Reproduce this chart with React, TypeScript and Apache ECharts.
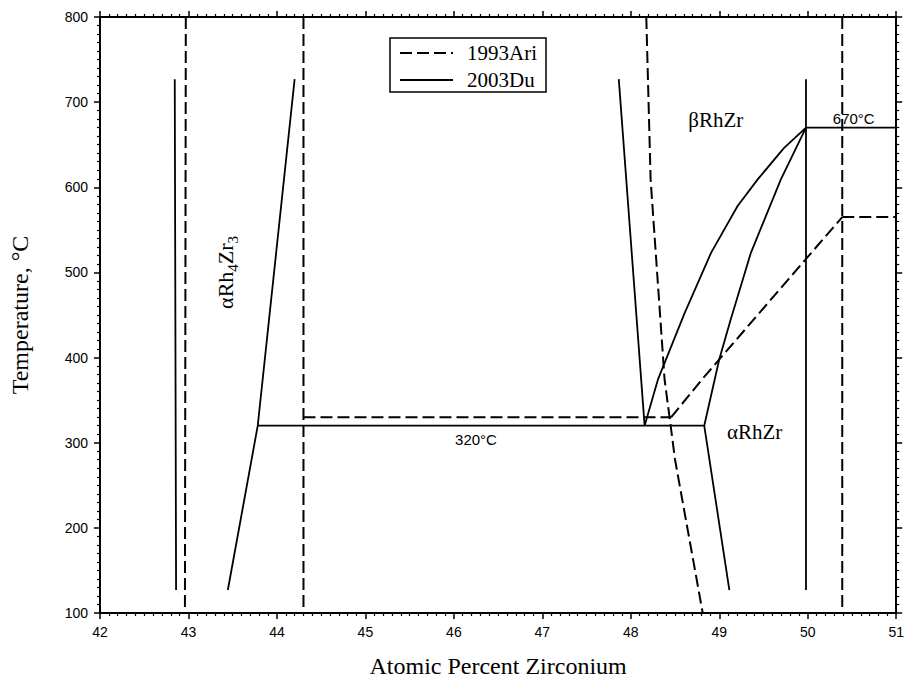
import React, { useEffect, useRef } from "react";
import * as echarts from "echarts";

// Axis ranges and ticks
const X_MIN = 42;
const X_MAX = 51;
const Y_MIN = 100;
const Y_MAX = 800;
const X_INTERVAL = 1;
const Y_INTERVAL = 100;

// Series names
const SERIES_NAMES = ["1993Ari", "2003Du"];

// 1993Ari boundaries (dashed)
const ari43 = [[42.97, 800], [42.96, 100]];
const ari443 = [[44.3, 800], [44.3, 100]];
const ariBeta = [[48.175, 800], [48.224, 609], [48.382, 374], [48.438, 330], [48.5, 280], [48.813, 100]];
const ari330 = [[44.3, 330], [48.457, 330]];
const ariRise = [[48.457, 330], [48.81, 375], [49.99, 517], [50.39, 565]];
const ari5039 = [[50.39, 800], [50.39, 100]];
const ari565 = [[50.39, 565], [51, 565]];

// 2003Du boundaries (solid)
const duRh4Left = [[42.845, 727], [42.86, 127]];
const duRh4Right = [[44.2, 727], [43.783, 320], [43.445, 127]];
const du320 = [[43.783, 320], [48.83, 320]];
const duBetaLeft = [[47.864, 727], [48.156, 320]];
const duBetaUpper = [[48.156, 320], [48.306, 374], [48.607, 452], [48.907, 523], [49.207, 578], [49.432, 609], [49.73, 646], [49.98, 670]];
const duAlphaCurve = [[48.83, 320], [49.0, 398], [49.13, 445], [49.357, 523], [49.695, 609], [49.98, 670]];
const duAlphaRight = [[48.83, 320], [49.114, 127]];
const du50 = [[49.98, 727], [49.98, 127]];
const du670 = [[49.98, 670], [51, 670]];

const ariLines = [ari43, ari443, ariBeta, ari330, ariRise, ari5039, ari565];
const duLines = [duRh4Left, duRh4Right, du320, duBetaLeft, duBetaUpper, duAlphaCurve, duAlphaRight, du50, du670];

// Annotations (data coordinates)
const labels = [
  { text: "βRhZr", at: [48.96, 679], kind: "serif" },
  { text: "αRhZr", at: [49.4, 313], kind: "serif" },
  { text: "670°C", at: [50.52, 681], kind: "sans" },
  { text: "320°C", at: [46.25, 304], kind: "sans" },
];
const rotatedLabelAt = [43.44, 500];

const SERIF = '"Liberation Serif", "Times New Roman", serif';
const SANS = '"Liberation Sans", Arial, sans-serif';
const DASH = [12, 5];

function joinWithBreaks(lines: number[][][]) {
  const out: any[] = [];
  lines.forEach((l, i) => {
    if (i > 0) out.push(["-", "-"]);
    l.forEach((p) => out.push(p));
  });
  return out;
}

function axisX(position: "bottom" | "top", showLabel: boolean, name?: string) {
  return {
    type: "value",
    position,
    min: X_MIN,
    max: X_MAX,
    interval: X_INTERVAL,
    name: name,
    nameLocation: "middle",
    nameGap: 41,
    nameTextStyle: { fontFamily: SERIF, fontSize: 24, color: "#000" },
    axisLine: { show: true, onZero: false, lineStyle: { color: "#000", width: 2 } },
    axisTick: { show: true, inside: false, length: 6, lineStyle: { color: "#000", width: 1.5 } },
    minorTick: { show: true, splitNumber: 10, length: 3, lineStyle: { color: "#000", width: 1.2 } },
    splitLine: { show: false },
    axisLabel: { show: showLabel, margin: 12, fontFamily: SANS, fontSize: 14, color: "#000" },
  };
}

function axisY(position: "left" | "right", showLabel: boolean, name?: string) {
  return {
    type: "value",
    position,
    min: Y_MIN,
    max: Y_MAX,
    interval: Y_INTERVAL,
    name: name,
    nameLocation: "middle",
    nameGap: 68,
    nameTextStyle: { fontFamily: SERIF, fontSize: 24, color: "#000" },
    axisLine: { show: true, onZero: false, lineStyle: { color: "#000", width: 2 } },
    axisTick: { show: true, inside: false, length: 6, lineStyle: { color: "#000", width: 1.5 } },
    minorTick: { show: true, splitNumber: 10, length: 3, lineStyle: { color: "#000", width: 1.2 } },
    splitLine: { show: false },
    axisLabel: { show: showLabel, margin: 12, fontFamily: SANS, fontSize: 14, color: "#000" },
  };
}

export default function App() {
  const ref = useRef<HTMLDivElement>(null);
  useEffect(() => {
    const chart = echarts.init(ref.current!, null, { renderer: "svg" });
    chart.setOption({
      animation: false,
      backgroundColor: "#fff",
      grid: { left: 100, right: 8, top: 17, bottom: 69, containLabel: false },
      xAxis: [axisX("bottom", true, "Atomic Percent Zirconium"), axisX("top", false)],
      yAxis: [axisY("left", true, "Temperature, °C"), axisY("right", false)],
      series: [
        {
          name: SERIES_NAMES[0],
          type: "line",
          xAxisIndex: 0,
          yAxisIndex: 0,
          data: joinWithBreaks(ariLines),
          showSymbol: false,
          symbol: "none",
          connectNulls: false,
          lineStyle: { color: "#000", width: 2, type: DASH },
          itemStyle: { color: "#000" },
        },
        {
          name: SERIES_NAMES[1],
          type: "line",
          xAxisIndex: 0,
          yAxisIndex: 0,
          data: joinWithBreaks(duLines),
          showSymbol: false,
          symbol: "none",
          connectNulls: false,
          lineStyle: { color: "#000", width: 1.8, type: "solid" },
          itemStyle: { color: "#000" },
        },
      ],
    });

    const px = (p: number[]) => chart.convertToPixel({ gridIndex: 0 }, p) as number[];
    const graphics: any[] = labels.map((l) => {
      const [x, y] = px(l.at);
      return {
        type: "text",
        x,
        y,
        style: {
          text: l.text,
          fontFamily: l.kind === "serif" ? SERIF : SANS,
          fontSize: l.kind === "serif" ? 21 : 15,
          fill: "#000",
          align: "center",
          verticalAlign: "middle",
        },
      };
    });
    const [rx, ry] = px(rotatedLabelAt);
    graphics.push({
      type: "text",
      x: rx,
      y: ry,
      rotation: Math.PI / 2,
      style: {
        text: "{a|αRh}{s|4}{a|Zr}{s|3}",
        align: "center",
        verticalAlign: "middle",
        fill: "#000",
        rich: {
          a: { fontFamily: SERIF, fontSize: 22, verticalAlign: "bottom", padding: [0, 0, 4, 0], fill: "#000" },
          s: { fontFamily: SERIF, fontSize: 15, verticalAlign: "bottom", fill: "#000" },
        },
      },
    });

    // Legend box (drawn as graphic so the line samples carry no symbol)
    const LEG_X = 390, LEG_Y = 38, LEG_W = 156, LEG_H = 54, ROW_H = 27;
    const legendChildren: any[] = [
      {
        type: "rect",
        shape: { x: 0, y: 0, width: LEG_W, height: LEG_H },
        style: { fill: "#fff", stroke: "#000", lineWidth: 1.5 },
      },
    ];
    SERIES_NAMES.forEach((name, i) => {
      const cy = 15 + i * ROW_H;
      legendChildren.push({
        type: "line",
        shape: { x1: 10, y1: cy, x2: 63, y2: cy },
        style: {
          stroke: "#000",
          lineWidth: i === 0 ? 2 : 1.8,
          lineDash: i === 0 ? DASH : null,
        },
      });
      legendChildren.push({
        type: "text",
        x: 77,
        y: cy,
        style: {
          text: name,
          fontFamily: SERIF,
          fontSize: 21,
          fill: "#000",
          align: "left",
          verticalAlign: "middle",
        },
      });
    });
    graphics.push({ type: "group", x: LEG_X, y: LEG_Y, children: legendChildren });

    chart.setOption({ graphic: graphics });

    return () => chart.dispose();
  }, []);
  return (
    <div
      ref={ref}
      style={{ position: "fixed", left: 0, top: 0, width: 907, height: 683, background: "#fff" }}
    />
  );
}
